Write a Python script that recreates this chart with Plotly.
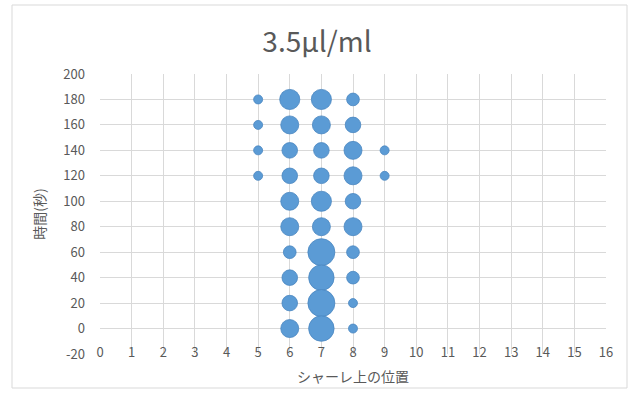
import plotly.graph_objects as go

# data: position on dish (x), time in seconds (y), count (bubble size)
pos_x = [5, 5, 5, 5,
         6, 6, 6, 6, 6, 6, 6, 6, 6, 6,
         7, 7, 7, 7, 7, 7, 7, 7, 7, 7,
         8, 8, 8, 8, 8, 8, 8, 8, 8, 8,
         9, 9]
time_y = [180, 160, 140, 120,
          180, 160, 140, 120, 100, 80, 60, 40, 20, 0,
          180, 160, 140, 120, 100, 80, 60, 40, 20, 0,
          180, 160, 140, 120, 100, 80, 60, 40, 20, 0,
          140, 120]
counts = [1, 1, 1, 1,
          5, 4, 3, 3, 4, 4, 2, 3, 3, 4,
          5, 4, 3, 3, 5, 4, 9, 8, 9, 8,
          2, 3, 4, 4, 3, 4, 2, 2, 1, 1,
          1, 1]

title_text = "3.5µl/ml"
x_title = "シャーレ上の位置"
y_title = "時間(秒)"
x_ticks = list(range(0, 17))
y_ticks = list(range(-20, 201, 20))

max_diam = 27
sizeref = 2.0 * max(counts) / (max_diam ** 2)

font_family = "Noto Sans CJK JP, Noto Sans, sans-serif"
gray = "#595959"

fig = go.Figure(go.Scatter(
    x=pos_x, y=time_y, mode="markers",
    marker=dict(size=counts, sizemode="area", sizeref=sizeref, sizemin=1,
                color="#5B9BD5", opacity=1,
                line=dict(color="#4A86C0", width=0.8)),
    hoverinfo="x+y+text", text=[str(c) for c in counts],
))

L, R, T, B = 100, 28, 74, 46
W, H = 634, 400
pw, ph = W - L - R, H - T - B

fig.update_layout(
    width=W, height=H,
    margin=dict(l=L, r=R, t=T, b=B),
    paper_bgcolor="white", plot_bgcolor="white",
    font=dict(family=font_family, color=gray, size=13),
    showlegend=False,
    title=dict(text=title_text, x=0.5, xanchor="center", y=1 - 42 / H, yanchor="middle",
               font=dict(size=28, color=gray, family=font_family)),
    xaxis=dict(range=[0, 16], tickvals=x_ticks, ticktext=[str(v) for v in x_ticks],
               showgrid=True, gridcolor="#D9D9D9", gridwidth=1, zeroline=False,
               showline=False, ticks="", ticklabelstandoff=-11,
               tickfont=dict(size=13, color=gray),
               title=dict(text=x_title, standoff=12, font=dict(size=14, color=gray))),
    yaxis=dict(range=[-20, 200], tickvals=y_ticks, ticktext=[str(v) for v in y_ticks],
               showgrid=True, gridcolor="#D9D9D9", gridwidth=1, zeroline=False,
               showline=False, ticks="", ticklabelstandoff=14,
               tickfont=dict(size=13, color=gray),
               title=dict(text=y_title, standoff=14, font=dict(size=14, color=gray))),
    shapes=[dict(type="rect", xref="paper", yref="paper",
                 x0=(12 - L) / pw, x1=(627 - L) / pw,
                 y0=(H - 388 - B) / ph, y1=(H - 5 - B) / ph,
                 line=dict(color="#D9D9D9", width=1), fillcolor="rgba(0,0,0,0)",
                 layer="below")],
)

fig.write_html("out.html")
